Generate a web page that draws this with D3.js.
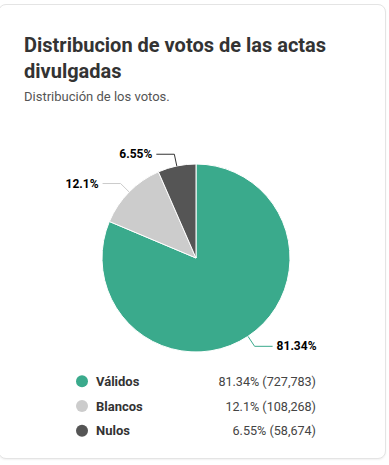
<!DOCTYPE html>
<html>
<head>
<meta charset="utf-8">
<script src="https://cdn.jsdelivr.net/npm/d3@7"></script>
<style>
  html, body { margin: 0; padding: 0; background: #fff; }
  body { width: 389px; height: 465px; overflow: hidden; font-family: Roboto, "Noto Sans", sans-serif; }
  .card {
    position: absolute; left: -2px; top: 4px; width: 388px; height: 455px;
    border: 1px solid #e4e4e4; border-radius: 8px; box-sizing: border-box; background: #fff;
    box-shadow: 0 1px 2px rgba(0,0,0,0.06);
  }
  svg { position: absolute; left: 0; top: 0; }
</style>
</head>
<body>
<div class="card"></div>
<svg id="chart" width="389" height="465"></svg>
<script>
const categories = ["Válidos", "Blancos", "Nulos"];
const percents = [81.34, 12.1, 6.55];
const votes = [727783, 108268, 58674];
const colors = ["#3aaa8c", "#cccccc", "#555555"];

const svg = d3.select("#chart");

// titulo
svg.append("text").attr("x", 24).attr("y", 52)
  .attr("font-size", 20).attr("font-weight", 700).attr("fill", "#333")
  .text("Distribucion de votos de las actas");
svg.append("text").attr("x", 24).attr("y", 78)
  .attr("font-size", 20).attr("font-weight", 700).attr("fill", "#333")
  .text("divulgadas");
svg.append("text").attr("x", 24).attr("y", 101)
  .attr("font-size", 13).attr("fill", "#555")
  .text("Distribución de los votos.");

// pie
const cx = 196, cy = 258, r = 94;
const data = categories.map((c, i) => ({ name: c, pct: percents[i], votes: votes[i], color: colors[i] }));
const pie = d3.pie().sort(null).value(d => d.pct);
const arcs = pie(data);
const arc = d3.arc().innerRadius(0).outerRadius(r);

const g = svg.append("g").attr("transform", `translate(${cx},${cy})`);
g.selectAll("path").data(arcs).join("path")
  .attr("d", arc)
  .attr("fill", d => d.data.color)
  .attr("stroke", "#fff")
  .attr("stroke-width", 1);

// etiquetas con conectores
const fmt = p => p + "%";
arcs.forEach(a => {
  const mid = (a.startAngle + a.endAngle) / 2;
  const sx = Math.sin(mid) * r, sy = -Math.cos(mid) * r;
  const ex = Math.sin(mid) * (r + 12), ey = -Math.cos(mid) * (r + 12);
  const right = Math.sin(mid) > 0;
  const hx = ex + (right ? 18 : -18);
  g.append("path")
    .attr("d", `M${sx},${sy}L${ex},${ey}L${hx},${ey}`)
    .attr("fill", "none")
    .attr("stroke", a.data.color === "#555555" ? "#333" : a.data.color)
    .attr("stroke-width", 1);
  g.append("text")
    .attr("x", hx + (right ? 4 : -4))
    .attr("y", ey + 4)
    .attr("text-anchor", right ? "start" : "end")
    .attr("font-size", 12).attr("font-weight", 700).attr("fill", "#000")
    .text(fmt(a.data.pct));
});

// leyenda
const ly = d3.scaleBand().domain(categories).range([369, 443]);
const leg = svg.append("g");
leg.selectAll("circle").data(data).join("circle")
  .attr("cx", 82).attr("cy", d => ly(d.name) + ly.bandwidth() / 2)
  .attr("r", 6).attr("fill", d => d.color);
leg.selectAll("text.name").data(data).join("text").attr("class", "name")
  .attr("x", 96).attr("y", d => ly(d.name) + ly.bandwidth() / 2 + 4.5)
  .attr("font-size", 13).attr("font-weight", 700).attr("fill", "#333")
  .text(d => d.name);
leg.selectAll("text.val").data(data).join("text").attr("class", "val")
  .attr("x", 316).attr("y", d => ly(d.name) + ly.bandwidth() / 2 + 4.5)
  .attr("text-anchor", "end")
  .attr("font-size", 12.6).attr("fill", "#444")
  .text(d => `${d.pct}% (${d3.format(",")(d.votes)})`);
</script>
</body>
</html>
